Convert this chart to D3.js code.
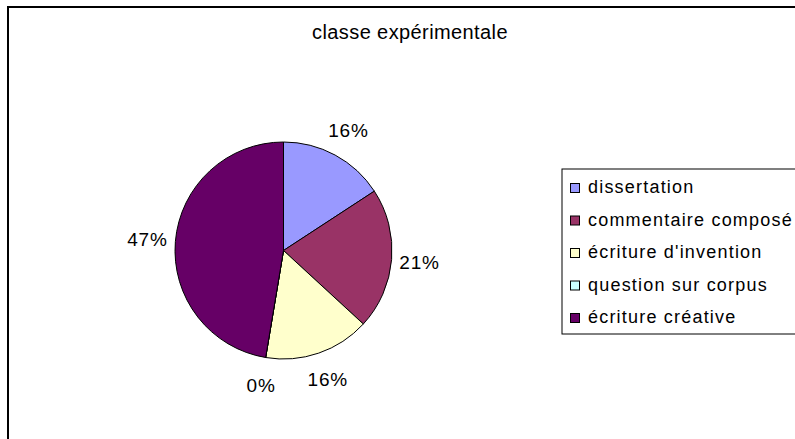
<!DOCTYPE html>
<html>
<head>
<meta charset="utf-8">
<script src="https://cdn.jsdelivr.net/npm/d3@7"></script>
<style>
  html, body { margin: 0; padding: 0; background: #fff; }
  svg { display: block; font-family: "Liberation Sans", Arial, sans-serif; }
</style>
</head>
<body>
<svg id="chart" width="795" height="439"></svg>
<script>
// chart data
const title = 'classe expérimentale';
const categories = ['dissertation', 'commentaire composé', "écriture d'invention", 'question sur corpus', 'écriture créative'];
const counts = [3, 4, 3, 0, 9];
const colors = ['#9999FF', '#993366', '#FFFFCC', '#CCFFFF', '#660066'];

let width = 795, height = 439;
let svg = d3.select('#chart');

// outer chart frame (runs off the right and bottom of the window)
svg.append('rect')
    .attr('x', 8).attr('y', 7)
    .attr('width', 900).attr('height', 600)
    .attr('fill', '#fff')
    .attr('stroke', '#000')
    .attr('stroke-width', 2);

// title
svg.append('text')
    .attr('x', 410).attr('y', 39)
    .attr('text-anchor', 'middle')
    .style('font-size', '20px')
    .style('letter-spacing', '0.4px')
    .text(title);

// pie
let cx = 283.5, cy = 250.5, r = 108.5;
let total = d3.sum(counts);
let pct = d3.format('.0%');

let pie = d3.pie().sort(null).value(d => d);
let arcs = pie(counts);
let arc = d3.arc().innerRadius(0).outerRadius(r);

let g = svg.append('g').attr('transform', `translate(${cx},${cy})`);

g.selectAll('path.slice')
    .data(arcs)
  .enter().append('path')
    .attr('class', 'slice')
    .attr('d', arc)
    .attr('fill', (d, i) => colors[i])
    .attr('stroke', '#000')
    .attr('stroke-width', 1);

// percentage labels outside the pie
let labelR = r + 28;
g.selectAll('text.label')
    .data(arcs)
  .enter().append('text')
    .attr('class', 'label')
    .attr('x', d => {
        let a = (d.startAngle + d.endAngle) / 2;
        return labelR * Math.sin(a);
    })
    .attr('y', d => {
        let a = (d.startAngle + d.endAngle) / 2;
        return -labelR * Math.cos(a);
    })
    .attr('dy', '0.36em')
    .attr('text-anchor', 'middle')
    .style('font-size', '19px')
    .style('letter-spacing', '0.8px')
    .text(d => pct(d.data / total));

// legend
let legendX = 562, legendY = 169, legendH = 165;
let legend = svg.append('g');

legend.append('rect')
    .attr('x', legendX).attr('y', legendY)
    .attr('width', 400).attr('height', legendH)
    .attr('fill', '#fff')
    .attr('stroke', '#000')
    .attr('stroke-width', 1);

let rowY = d3.scalePoint()
    .domain(categories)
    .range([193, 323]);

let items = legend.selectAll('g.item')
    .data(categories)
  .enter().append('g')
    .attr('class', 'item')
    .attr('transform', d => `translate(0,${rowY(d)})`);

items.append('rect')
    .attr('x', 570.5).attr('y', -9.5)
    .attr('width', 9).attr('height', 9)
    .attr('fill', (d, i) => colors[i])
    .attr('stroke', '#000')
    .attr('stroke-width', 1);

items.append('text')
    .attr('x', 588).attr('y', 0)
    .style('font-size', '18px')
    .style('letter-spacing', '1.2px')
    .text(d => d);
</script>
</body>
</html>
